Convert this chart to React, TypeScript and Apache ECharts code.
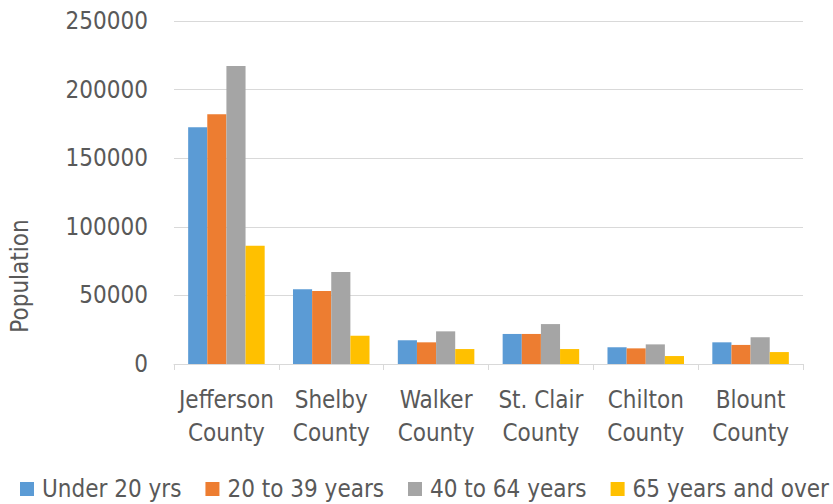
import React, { useEffect, useRef } from "react";
import * as echarts from "echarts";

const counties = ["Jefferson County", "Shelby County", "Walker County", "St. Clair County", "Chilton County", "Blount County"];
const seriesNames = ["Under 20 yrs", "20 to 39 years", "40 to 64 years", "65 years and over"];
const under20 = [172500, 54400, 17300, 21900, 12200, 15800];
const age20to39 = [182000, 53200, 15800, 21900, 11400, 13900];
const age40to64 = [217200, 67000, 23800, 29100, 14300, 19500];
const age65plus = [86200, 20600, 10900, 10900, 5800, 8700];
const colors = ["#5B9BD5", "#ED7D31", "#A5A5A5", "#FFC000"];

const FONT = "'DejaVu Sans Condensed', 'Liberation Sans', sans-serif";
const TEXT = "#595959";

export default function App() {
  const ref = useRef<HTMLDivElement>(null);
  useEffect(() => {
    const chart = echarts.init(ref.current!, null, { renderer: "svg" });
    const data = [under20, age20to39, age40to64, age65plus];
    chart.setOption({
      animation: false,
      textStyle: { fontFamily: FONT },
      color: colors,
      grid: { left: 174, right: 30, top: 21, bottom: 140, containLabel: false },
      legend: {
        top: 477,
        left: 20,
        padding: 0,
        itemWidth: 14,
        itemHeight: 14,
        itemGap: 24,
        icon: "rect",
        textStyle: { fontFamily: FONT, fontSize: 24, color: TEXT, padding: [0, 0, 0, 3] },
        data: seriesNames,
      },
      xAxis: {
        type: "category",
        data: counties,
        axisLine: { lineStyle: { color: "#D9D9D9", width: 1 } },
        axisTick: { show: true, length: 6, lineStyle: { color: "#D9D9D9" } },
        axisLabel: {
          interval: 0,
          margin: 19,
          fontFamily: FONT,
          fontSize: 24,
          lineHeight: 33,
          color: TEXT,
          formatter: (v: string) => v.replace(" County", "\nCounty"),
        },
      },
      yAxis: {
        type: "value",
        min: 0,
        max: 250000,
        interval: 50000,
        axisLine: { show: false },
        axisTick: { show: false },
        splitLine: { lineStyle: { color: "#D9D9D9", width: 1 } },
        axisLabel: {
          margin: 26,
          fontFamily: FONT,
          fontSize: 24,
          color: TEXT,
          formatter: (v: number) => String(v),
        },
      },
      graphic: [
        {
          type: "text",
          x: 20,
          y: 276,
          rotation: Math.PI / 2,
          style: {
            text: "Population",
            fontFamily: FONT,
            fontSize: 24,
            fill: TEXT,
            align: "center",
            verticalAlign: "middle",
          },
        },
      ],
      series: seriesNames.map((name, i) => ({
        name,
        type: "bar",
        data: data[i],
        barGap: "0%",
        barCategoryGap: "27%",
        itemStyle: { color: colors[i] },
      })),
    });
    return () => chart.dispose();
  }, []);
  return (
    <div
      ref={ref}
      style={{ position: "fixed", left: 0, top: 0, width: 833, height: 504, background: "#fff" }}
    />
  );
}
